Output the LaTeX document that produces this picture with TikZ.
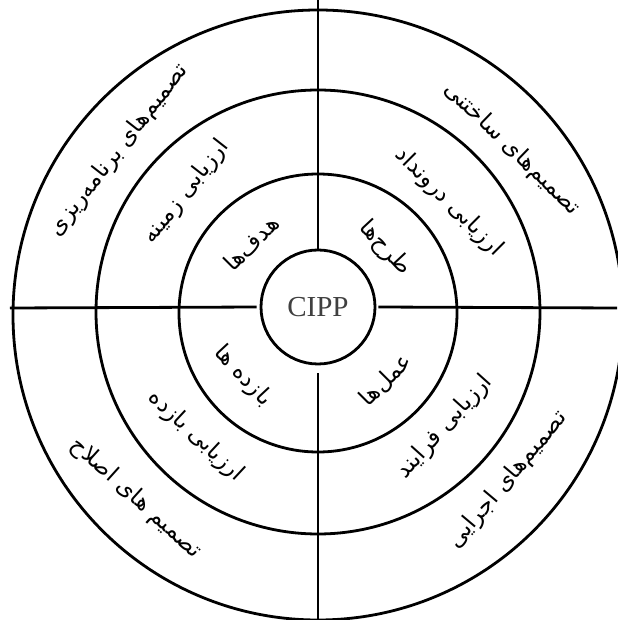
\documentclass[tikz,border=0pt]{standalone}
\usepackage{fontspec}
\setmainfont{Liberation Serif}
\newfontfamily\persianfont[Script=Arabic]{DejaVu Sans}
\TeXXeTstate=1
\newcommand{\fatxt}[1]{\beginR #1\endR}
\usetikzlibrary{positioning}

\begin{document}
\begin{tikzpicture}[
                x=0.5pt, y=0.5pt,
                ring/.style={circle, draw=black, line width=1.4pt, inner sep=0pt},
                divider/.style={draw=black, line width=1.4pt},
                falabel/.style={font=\persianfont\fontsize{11.5}{13}\selectfont, inner sep=0pt}
            ]
                \useasboundingbox (-318,-311) rectangle (299,309);

                % rings
                \node[ring, minimum size=305pt] (outer)  at (0,-6) {};
                \node[ring, minimum size=222pt] (middle) at (0,-3) {};
                \node[ring, minimum size=139pt] (inner)  at (0,-4) {};
                \node[ring, minimum size=57pt, font=\fontsize{14.5}{16}\selectfont, text=black!75] (cipp) at (0,2) {CIPP};

                % free ends of the dividers
                \coordinate (top)   at (0,309);
                \coordinate (down)  at (0,-311);
                \coordinate (left)  at (-308,1);
                \coordinate (right) at (299,1);

                \draw[divider] (cipp.north) -- (top);
                \draw[divider, shorten <=4pt] (cipp.south) -- (down);
                \draw[divider, shorten <=1.5pt] (cipp.west) -- (left);
                \draw[divider, shorten <=1pt] (cipp.east) -- (right);

                % upper left
                \node[falabel, rotate=52]  (planning) at (-199,159) {\fatxt{تصمیم‌های برنامه‌ریزی}};
                \node[falabel, rotate=52]  (context)  at (-132,117) {\fatxt{ارزیابی زمینه}};
                \node[falabel, rotate=45]  (goals)    at (-67,66)   {\fatxt{هدف‌ها}};
                % upper right
                \node[falabel, rotate=-44] (structuring) at (194,160) {\fatxt{تصمیم‌های ساختنی}};
                \node[falabel, rotate=-45] (input)       at (131,107) {\fatxt{ارزیابی درونداد}};
                \node[falabel, rotate=-47] (designs)     at (67,61)   {\fatxt{طرح‌ها}};
                % lower right
                \node[falabel, rotate=45]  (actions)        at (68,-71)   {\fatxt{عمل‌ها}};
                \node[falabel, rotate=48]  (process)        at (127,-118) {\fatxt{ارزیابی فرایند}};
                \node[falabel, rotate=50]  (implementing)   at (190,-171) {\fatxt{تصمیم‌های اجرایی}};
                % lower left
                \node[falabel, rotate=-47] (outcomes)  at (-75,-67)   {\fatxt{بازده ها}};
                \node[falabel, rotate=-43] (product)   at (-122,-127) {\fatxt{ارزیابی بازده}};
                \node[falabel, rotate=-42] (recycling) at (-182,-189) {\fatxt{تصمیم های اصلاح}};
            \end{tikzpicture}
\end{document}
